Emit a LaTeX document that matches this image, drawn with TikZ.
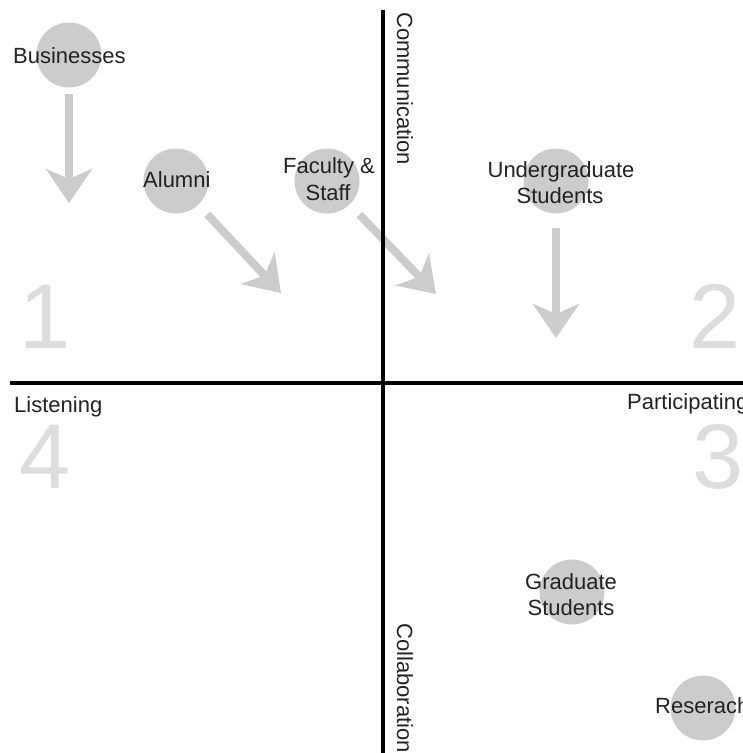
\documentclass[tikz,border=0pt]{standalone}
\usepackage{fontspec}
\setmainfont{Liberation Sans}
\usetikzlibrary{arrows.meta}
\definecolor{circ}{HTML}{CCCCCC}
\definecolor{numc}{HTML}{DDDDDD}
\definecolor{txt}{HTML}{222222}
\begin{document}
\begin{tikzpicture}[x=1pt,y=-1pt,
  dot/.style={circle,fill=circ,minimum size=65pt,inner sep=0pt},
  lbl/.style={text=txt,font=\fontsize{22}{26}\selectfont,inner sep=0pt},
  num/.style={text=numc,font=\fontsize{92}{92}\selectfont,inner sep=0pt,anchor=base},
  axisline/.style={line width=4.5pt,black},
  arr/.style={draw=circ,line width=8pt,-{Stealth[length=34pt,width=46pt,inset=10pt]}}]
\useasboundingbox (0,0) rectangle (743,753);
\clip (0,0) rectangle (743,753);
% quadrant numbers
\node[num] (n1) at (45,348) {1};
\node[num] (n2) at (715,348) {2};
\node[num] (n3) at (718,488) {3};
\node[num] (n4) at (45,488) {4};
% circles
\node[dot] (bus) at (69,55) {};
\node[dot] (alu) at (176,181) {};
\node[dot] (fac) at (327,181) {};
\node[dot] (und) at (556,181) {};
\node[dot] (gra) at (572,592) {};
\node[dot] (res) at (703,708) {};
% arrow ends
\coordinate (busend) at (69,203);
\coordinate (aluend) at (281,293);
\coordinate (facend) at (436,294);
\coordinate (undend) at (556,338);
\draw[arr,shorten <=6pt] (bus) -- (busend);
\draw[arr,shorten <=13pt] (alu) -- (aluend);
\draw[arr,shorten <=14pt] (fac) -- (facend);
\draw[arr,shorten <=14pt] (und) -- (undend);
% axes
\coordinate (vtop) at (383,10);
\coordinate (vbot) at (383,753);
\coordinate (hl) at (10,383);
\coordinate (hr) at (743,383);
\draw[axisline] (vtop) -- (vbot);
\draw[axisline] (hl) -- (hr);
% labels
\node[lbl,anchor=base west] (tbus) at (13,63) {Businesses};
\node[lbl,anchor=base west] (talu) at (143,187) {Alumni};
\node[lbl,anchor=base] (tfac1) at (329,173) {Faculty \&};
\node[lbl,anchor=base] (tfac2) at (328,200) {Staff};
\node[lbl,anchor=base] (tund1) at (561,177) {Undergraduate};
\node[lbl,anchor=base] (tund2) at (560,203) {Students};
\node[lbl,anchor=base] (tgra1) at (571,589) {Graduate};
\node[lbl,anchor=base] (tgra2) at (571,615) {Students};
\node[lbl,anchor=base west] (tres) at (655,713) {Reserach};
\node[lbl,anchor=base west] (tlis) at (14,412) {Listening};
\node[lbl,anchor=base west] (tpar) at (627,409) {Participating};
\node[lbl,anchor=base west,rotate=-90] (tcom) at (397,12) {Communication};
\node[lbl,anchor=base west,rotate=-90] (tcol) at (397,623) {Collaboration};
\end{tikzpicture}
\end{document}
